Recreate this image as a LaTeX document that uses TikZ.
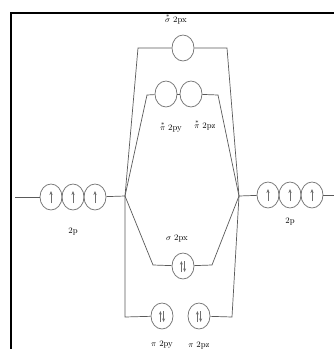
\documentclass[tikz,border=0pt]{standalone}
\usepackage{amsmath,amssymb}
\usepackage{tikz}
\usetikzlibrary{arrows.meta,shapes.geometric}
\definecolor{linegray}{HTML}{5A5A5A}
\definecolor{orbgray}{HTML}{6E6E6E}

\begin{document}
\begin{tikzpicture}[
    x=1pt, y=-1pt,
    orb/.style={ellipse, draw=orbgray, line width=0.7pt, inner sep=0pt,
        minimum width=22pt, minimum height=26pt},
    single/.style={orb, path picture={
        \draw[-{Stealth[length=4pt,width=3.2pt]}, line width=0.8pt]
            ([yshift=-6pt]path picture bounding box.center) --
            ([yshift=6pt]path picture bounding box.center);}},
    paired/.style={orb, path picture={
        \draw[-{Stealth[length=3.5pt,width=2.8pt]}, line width=0.8pt]
            ([xshift=-1.6pt,yshift=-6pt]path picture bounding box.center) --
            ([xshift=-1.6pt,yshift=5pt]path picture bounding box.center);
        \draw[-{Stealth[length=3.5pt,width=2.8pt]}, line width=0.8pt]
            ([xshift=1.6pt,yshift=5pt]path picture bounding box.center) --
            ([xshift=1.6pt,yshift=-6pt]path picture bounding box.center);}},
    lbl/.style={font=\fontsize{8.5}{9}\selectfont, inner sep=0pt},
    link/.style={draw=linegray, line width=0.7pt}
]
\useasboundingbox (0,0) rectangle (334,349);
\fill[white] (0,0) rectangle (334,349);
\draw[line width=1.3pt] (11,349) |- (334,13);

% atomic 2p levels
\coordinate (lend) at (15,197);
\node[single] (l1) at (51,197) {};
\node[single] (l2) at (73,197) {};
\node[single] (l3) at (95,197) {};
\node[lbl] (l2p) at (73,231) {2p};
\coordinate (rend) at (334,195);
\node[single] (r1) at (268,195) {};
\node[single] (r2) at (290,195) {};
\node[single] (r3) at (312,195) {};
\node[lbl] (r2p) at (290,221) {2p};
\coordinate (jl) at (125,196);
\coordinate (jr) at (239,196);

% antibonding
\node[orb] (sx) at (183,48) {};
\node[lbl] (sxl) at (176,19) {$\overset{*}{\sigma}$ 2px};
\coordinate (sxa) at (138,48);
\coordinate (sxb) at (227,48);
\node[orb] (py) at (166,94) {};
\node[orb] (pz) at (191,94) {};
\node[lbl] (pyl) at (171,127) {$\overset{*}{\pi}$ 2py};
\node[lbl] (pzl) at (205,125) {$\overset{*}{\pi}$ 2pz};
\coordinate (pya) at (147,95);
\coordinate (pzb) at (218,95);

% bonding
\node[paired] (bx) at (183,266) {};
\node[lbl] (bxl) at (177,238) {$\sigma$ 2px};
\coordinate (bxa) at (153,265);
\coordinate (bxb) at (212,265);
\node[paired] (by) at (162,316) {};
\node[paired] (bz) at (199,316) {};
\node[lbl] (byl) at (162,345) {$\pi$ 2py};
\node[lbl] (bzl) at (199,345) {$\pi$ 2pz};
\coordinate (bya) at (125,317);
\coordinate (bzb) at (232,317);

\draw[link] (lend) -- (l1);
\draw[link] (l3) -- (jl);
\draw[link] (jr) -- (r1);
\draw[link] (r3) -- (rend);
\draw[link] (jl) -- (sxa) -- (sx);
\draw[link] (sx) -- (sxb) -- (jr);
\draw[link] (jl) -- (pya) -- (py);
\draw[link] (py) -- (pz);
\draw[link] (pz) -- (pzb) -- (jr);
\draw[link] (jl) -- (bxa) -- (bx);
\draw[link] (bx) -- (bxb) -- (jr);
\draw[link] (jl) -- (bya) -- (by);
\draw[link] (bz) -- (bzb) -- (jr);
\end{tikzpicture}
\end{document}
